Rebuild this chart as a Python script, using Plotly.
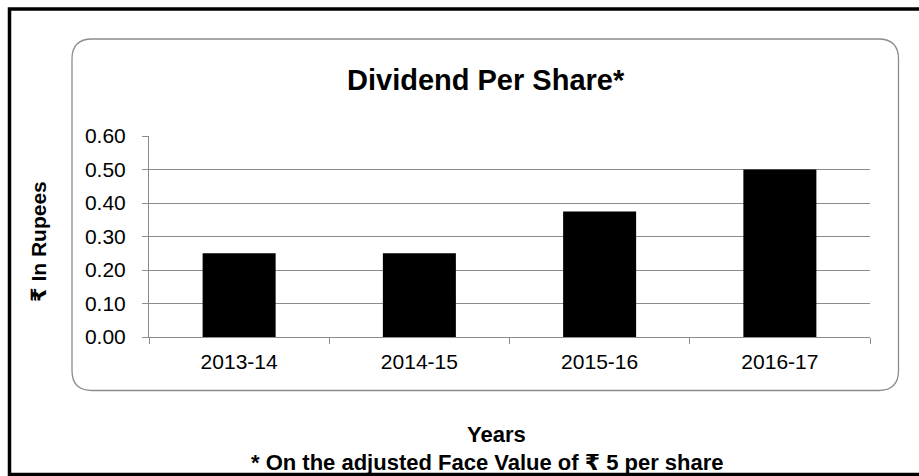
import plotly.graph_objects as go

categories = ["2013-14", "2014-15", "2015-16", "2016-17"]
dividend = [0.25, 0.25, 0.375, 0.50]
y_ticks = [0.0, 0.1, 0.2, 0.3, 0.4, 0.5, 0.6]
y_tick_labels = ["0.00", "0.10", "0.20", "0.30", "0.40", "0.50", "0.60"]

W, H = 919, 476
FONT = "Liberation Sans, Arial, DejaVu Sans, sans-serif"
GRAY = "#8c8c8c"

def px(x):
    return x / W

def py(y):
    return 1 - y / H

fig = go.Figure()
fig.add_trace(go.Bar(x=categories, y=dividend, marker=dict(color="black", line=dict(width=0)),
                     width=0.405, hoverinfo="x+y"))

# rounded rectangle frame
x0, x1, y0, y1, r = 72, 898.5, 39, 390.5, 20
rx, ry = r / W, r / H
X0, X1, Y0, Y1 = px(x0), px(x1), py(y0), py(y1)
path = (f"M {X0+rx},{Y0} L {X1-rx},{Y0} Q {X1},{Y0} {X1},{Y0-ry} "
        f"L {X1},{Y1+ry} Q {X1},{Y1} {X1-rx},{Y1} "
        f"L {X0+rx},{Y1} Q {X0},{Y1} {X0},{Y1+ry} "
        f"L {X0},{Y0-ry} Q {X0},{Y0} {X0+rx},{Y0} Z")

shapes = [
    dict(type="path", xref="paper", yref="paper", path=path,
         line=dict(color=GRAY, width=1.3), fillcolor="rgba(0,0,0,0)", layer="below"),
    dict(type="rect", xref="paper", yref="paper", x0=px(9.5), x1=px(940), y0=py(9), y1=py(474.5),
         line=dict(color="black", width=3.5), fillcolor="rgba(0,0,0,0)"),
]

annotations = [
    dict(text="<b>Dividend Per Share*</b>", x=px(486), y=py(80), xref="paper", yref="paper",
         showarrow=False, xanchor="center", yanchor="middle",
         font=dict(family=FONT, size=29, color="black")),
    dict(text="<b>₹ In Rupees</b>", x=px(38), y=py(242), xref="paper", yref="paper",
         showarrow=False, xanchor="center", yanchor="middle", textangle=-90,
         font=dict(family=FONT, size=21, color="black")),
    dict(text="<b>Years</b>", x=px(497), y=py(434), xref="paper", yref="paper",
         showarrow=False, xanchor="center", yanchor="middle",
         font=dict(family=FONT, size=22, color="black")),
    dict(text="<b>* On the adjusted Face Value of ₹ 5 per share</b>", x=px(487), y=py(462),
         xref="paper", yref="paper", showarrow=False, xanchor="center", yanchor="middle",
         font=dict(family=FONT, size=22, color="black")),
]

fig.update_layout(
    width=W, height=H,
    margin=dict(l=0, r=0, t=0, b=0, pad=0, autoexpand=False),
    paper_bgcolor="white", plot_bgcolor="white",
    showlegend=False,
    shapes=shapes,
    annotations=annotations,
    font=dict(family=FONT, size=21, color="black"),
    xaxis=dict(domain=[px(149), px(870)], type="category", automargin=False,
               showline=True, linecolor=GRAY, linewidth=1,
               ticks="outside", tickson="boundaries", ticklen=6, tickcolor=GRAY,
               showgrid=False, ticklabelstandoff=6,
               tickfont=dict(family=FONT, size=21, color="black")),
    yaxis=dict(domain=[py(337), py(136)], range=[0, 0.6], automargin=False,
               tickvals=y_ticks, ticktext=y_tick_labels,
               showline=True, linecolor=GRAY, linewidth=1,
               ticks="outside", ticklen=6, tickcolor=GRAY,
               showgrid=True, gridcolor=GRAY, gridwidth=1,
               zeroline=False, ticklabelstandoff=12,
               tickfont=dict(family=FONT, size=21, color="black")),
)

fig.write_html("out.html")
